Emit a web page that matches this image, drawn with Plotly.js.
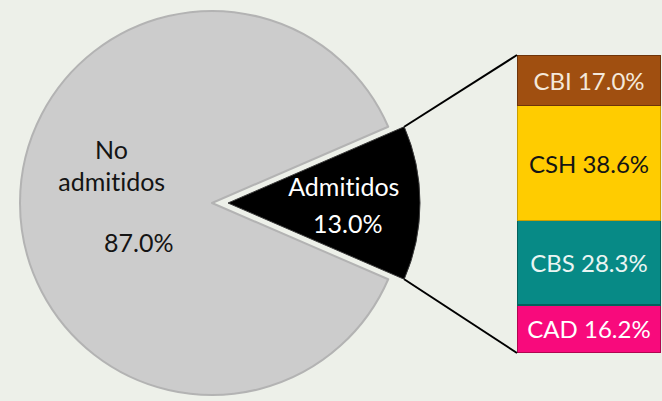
<!DOCTYPE html>
<html>
<head>
<meta charset="utf-8">
<script src="https://cdn.plot.ly/plotly-3.0.1.min.js"></script>
<style>
  html, body { margin:0; padding:0; background:#EDF0E9; }
  #chart { width:662px; height:401px; }
  #chart text { font-variant-ligatures: none; font-feature-settings: "liga" 0; }
</style>
</head>
<body>
<div id="chart"></div>
<script>
// ---- data ----
const pieLabels = ['Admitidos', 'No admitidos'];
const pieValues = [13.0, 87.0];
const pieColors = ['#000000', '#CCCCCC'];

const barLabels = ['CAD', 'CBS', 'CSH', 'CBI'];      // bottom to top
const barValues = [16.2, 28.3, 38.6, 17.0];
const barColors = ['#F80A7C', '#078A86', '#FFCC00', '#A04F10'];
const barLineColors = ['#B0064F', '#04605C', '#C99E00', '#6E340A'];
const barTextColors = ['#FFFFFF', '#EAF5F3', '#141414', '#F4E8DA'];

// ---- layout geometry (pixels) ----
const W = 662, H = 401;
const R = 192;            // pie radius
const cxGrey = 212, cy = 203;
const cxBlack = 228;      // exploded slice centre
const barLeft = 517, barRight = 661, barTop = 55, barBottom = 353;

const px = x => x / W;
const py = y => 1 - y / H;

const total = pieValues.reduce((a, b) => a + b, 0);
const halfAng = pieValues[0] / total * Math.PI;          // half angle of Admitidos slice
const rotationDeg = 90 - pieValues[0] / total * 180;

const font = 'Lato, Carlito, Calibri, sans-serif';

const greyPie = {
  type: 'pie', sort: false, direction: 'clockwise', rotation: rotationDeg,
  labels: pieLabels, values: pieValues,
  marker: { colors: ['rgba(0,0,0,0)', pieColors[1]],
            line: { color: ['rgba(0,0,0,0)', '#B3B3B3'], width: [0, 2] } },
  textinfo: 'none', hoverinfo: 'skip', showlegend: false,
  domain: { x: [px(cxGrey - R), px(cxGrey + R)], y: [py(cy + R), py(cy - R)] }
};
const blackPie = {
  type: 'pie', sort: false, direction: 'clockwise', rotation: rotationDeg,
  labels: pieLabels, values: pieValues,
  marker: { colors: [pieColors[0], 'rgba(0,0,0,0)'],
            line: { color: ['#3a3a3a', 'rgba(0,0,0,0)'], width: [1, 0] } },
  textinfo: 'none', hoverinfo: 'skip', showlegend: false,
  domain: { x: [px(cxBlack - R), px(cxBlack + R)], y: [py(cy + R), py(cy - R)] }
};

const barTraces = barLabels.map((lab, i) => ({
  type: 'bar', x: ['Admitidos'], y: [barValues[i]],
  name: lab, xaxis: 'x', yaxis: 'y',
  marker: { color: barColors[i], line: { color: barLineColors[i], width: 1.5 } },
  text: [lab + ' ' + barValues[i].toFixed(1) + '%'],
  textposition: 'inside', insidetextanchor: 'middle', textangle: 0,
  constraintext: 'none',
  textfont: { family: font, size: 24, color: barTextColors[i] },
  hoverinfo: 'skip', showlegend: false
}));

const barSum = barValues.reduce((a, b) => a + b, 0);

// connector lines from slice corners to bar corners
const c1x = cxBlack + R * Math.cos(halfAng), c1y = cy - R * Math.sin(halfAng);
const c2x = cxBlack + R * Math.cos(halfAng), c2y = cy + R * Math.sin(halfAng);
const shapes = [
  { type: 'line', xref: 'paper', yref: 'paper', x0: px(c1x), y0: py(c1y), x1: px(barLeft), y1: py(barTop),
    line: { color: '#000000', width: 2 } },
  { type: 'line', xref: 'paper', yref: 'paper', x0: px(c2x), y0: py(c2y), x1: px(barLeft), y1: py(barBottom),
    line: { color: '#000000', width: 2 } }
];

const pct = v => v.toFixed(1) + '%';
const noAdm = pieLabels[1].split(' ');
const annotations = [
  { text: noAdm[0], x: px(111), y: py(149) },
  { text: noAdm[1], x: px(111), y: py(181) },
  { text: pct(pieValues[1]), x: px(138), y: py(242) },
  { text: pieLabels[0], x: px(344), y: py(186), color: '#FFFFFF' },
  { text: pct(pieValues[0]), x: px(348), y: py(223), color: '#FFFFFF' }
].map(a => ({
  text: a.text, x: a.x, y: a.y, xref: 'paper', yref: 'paper',
  xanchor: 'center', yanchor: 'middle', showarrow: false,
  font: { family: font, size: 25, color: a.color || '#141414' }
}));

const layout = {
  width: W, height: H,
  margin: { l: 0, r: 0, t: 0, b: 0, pad: 0 },
  paper_bgcolor: '#EDF0E9', plot_bgcolor: 'rgba(0,0,0,0)',
  barmode: 'stack', bargap: 0,
  xaxis: { domain: [px(barLeft), px(barRight)], range: [-0.5, 0.5], visible: false, fixedrange: true },
  yaxis: { domain: [py(barBottom), py(barTop)], range: [0, barSum], visible: false, fixedrange: true },
  shapes: shapes,
  annotations: annotations,
  showlegend: false
};

Plotly.newPlot('chart', [greyPie, blackPie, ...barTraces], layout, { displayModeBar: false, staticPlot: true });
</script>
</body>
</html>
